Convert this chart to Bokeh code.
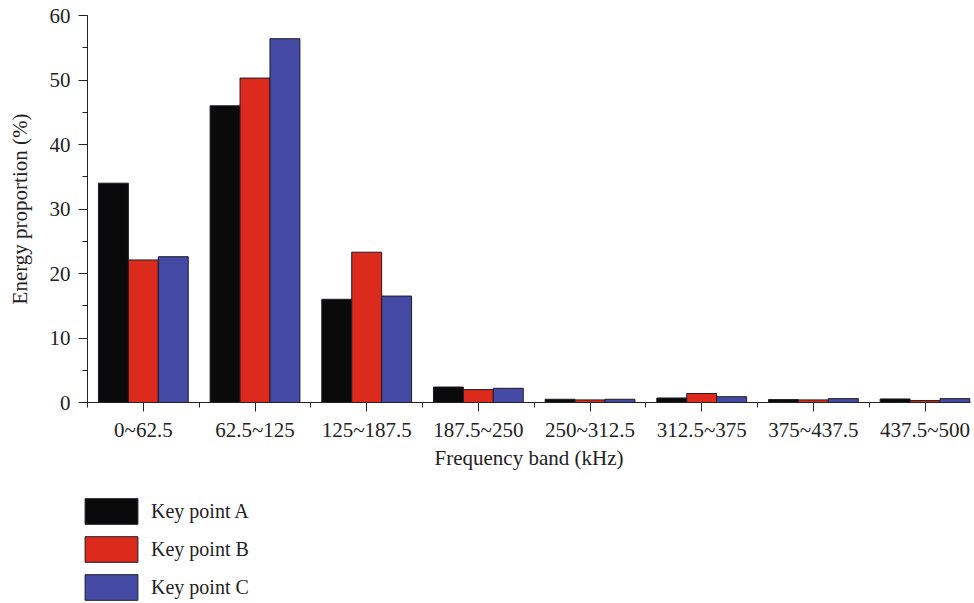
from bokeh.plotting import figure
from bokeh.models import Range1d, FixedTicker, SingleIntervalTicker, Legend, LegendItem
from bokeh.embed import file_html
from bokeh.resources import INLINE
import numpy as np

bands = ["0~62.5", "62.5~125", "125~187.5", "187.5~250",
         "250~312.5", "312.5~375", "375~437.5", "437.5~500"]
key_a = [34.0, 46.0, 16.0, 2.4, 0.5, 0.7, 0.45, 0.55]
key_b = [22.1, 50.3, 23.3, 2.0, 0.4, 1.4, 0.4, 0.3]
key_c = [22.6, 56.4, 16.5, 2.2, 0.5, 0.9, 0.6, 0.6]
series_names = ["Key point A", "Key point B", "Key point C"]
colors = ["#0a0a0a", "#dc2b1c", "#454ba5"]
outline = "#1c1c24"

FONT = "Liberation Serif"

p = figure(width=973, height=485, output_backend="svg", toolbar_location=None,
           x_range=Range1d(0, 7.907), y_range=Range1d(0, 60),
           min_border_left=87, min_border_right=3, min_border_top=15,
           min_border_bottom=83)
p.outline_line_color = None
p.xgrid.visible = False
p.ygrid.visible = False

centers = np.arange(len(bands)) + 0.5
bw = 0.268
for i, (vals, col) in enumerate(zip([key_a, key_b, key_c], colors)):
    p.vbar(x=centers + (i - 1) * bw, top=vals, bottom=0, width=bw,
           fill_color=col, line_color=outline, line_width=1)

xa = p.xaxis[0]
xa.ticker = FixedTicker(ticks=list(centers), minor_ticks=list(range(0, 8)))
xa.major_label_overrides = {float(c): b for c, b in zip(centers, bands)}
xa.axis_label = "Frequency band (kHz)"

ya = p.yaxis[0]
ya.ticker = SingleIntervalTicker(interval=10, num_minor_ticks=2)
ya.axis_label = "Energy proportion (%)"

for ax in (xa, ya):
    ax.axis_line_color = "#222222"
    ax.major_tick_line_color = "#222222"
    ax.minor_tick_line_color = "#222222"
    ax.major_tick_in = 0
    ax.minor_tick_in = 0
    ax.major_tick_out = 9
    ax.minor_tick_out = 5
    ax.major_label_text_font = FONT
    ax.major_label_text_font_size = "21px"
    ax.major_label_text_color = "#222222"
    ax.axis_label_text_font = FONT
    ax.axis_label_text_font_size = "21px"
    ax.axis_label_text_font_style = "normal"
    ax.axis_label_text_color = "#222222"

xa.major_label_standoff = 6
xa.axis_label_standoff = 1
ya.major_label_standoff = 8
ya.axis_label_standoff = 15

# legend panel below the chart (separate root, so its frame is not aligned)
p2 = figure(width=973, height=118, output_backend="svg", toolbar_location=None,
            x_range=Range1d(0, 1), y_range=Range1d(0, 1), min_border=0)
p2.axis.visible = False
p2.xgrid.visible = False
p2.ygrid.visible = False
p2.outline_line_color = None
leg_renderers = [p2.vbar(x=[10], top=[1], width=0.1, fill_color=col,
                         line_color=outline, line_width=1)
                 for col in colors]
legend = Legend(items=[LegendItem(label=n, renderers=[r]) for n, r in zip(series_names, leg_renderers)],
                orientation="vertical", location=(78, 0),
                glyph_width=66, glyph_height=32, label_height=32,
                spacing=6, label_standoff=7, padding=0, margin=0,
                border_line_color=None, background_fill_alpha=0,
                label_text_font=FONT, label_text_font_size="20px",
                label_text_color="#222222")
p2.add_layout(legend, "center")

open("out.html", "w").write(file_html([p, p2], INLINE))
